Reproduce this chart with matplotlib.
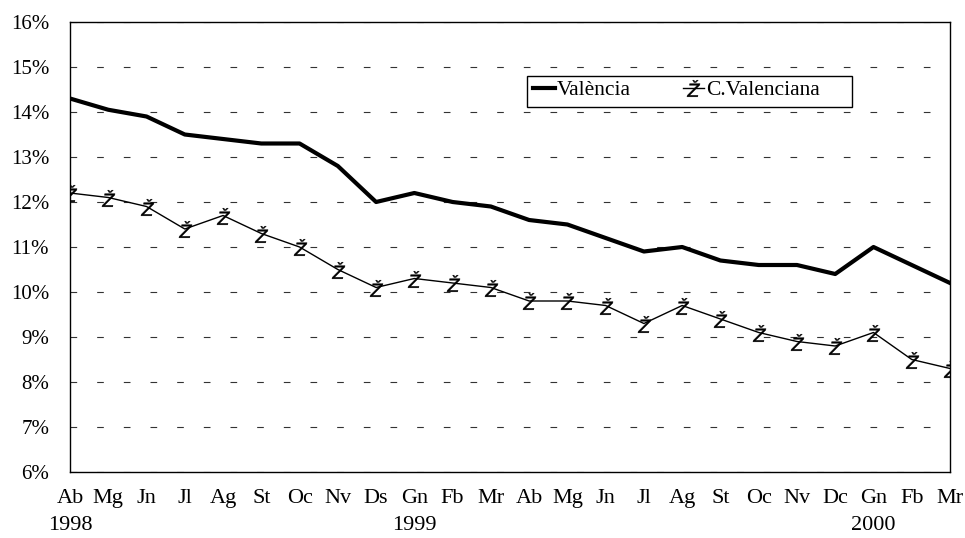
import numpy as np
import matplotlib.pyplot as plt
from matplotlib.patches import Rectangle
from matplotlib.transforms import blended_transform_factory

plt.rcParams['font.family'] = ['Liberation Serif', 'DejaVu Serif']

months = ['Ab', 'Mg', 'Jn', 'Jl', 'Ag', 'St', 'Oc', 'Nv', 'Ds', 'Gn', 'Fb', 'Mr',
          'Ab', 'Mg', 'Jn', 'Jl', 'Ag', 'St', 'Oc', 'Nv', 'Dc', 'Gn', 'Fb', 'Mr']
years = {0: '1998', 9: '1999', 21: '2000'}

valencia = [14.3, 14.05, 13.9, 13.5, 13.4, 13.3, 13.3, 12.8, 12.0, 12.2, 12.0, 11.9,
            11.6, 11.5, 11.2, 10.9, 11.0, 10.7, 10.6, 10.6, 10.4, 11.0, 10.6, 10.2]
cvalenciana = [12.2, 12.1, 11.9, 11.4, 11.7, 11.3, 11.0, 10.5, 10.1, 10.3, 10.2, 10.1,
               9.8, 9.8, 9.7, 9.3, 9.7, 9.4, 9.1, 8.9, 8.8, 9.1, 8.5, 8.3]

x = np.arange(len(months))

fig = plt.figure(figsize=(9.65, 5.38), dpi=100)
ax = fig.add_axes([70/965, 1 - 472/538, 880/965, 450/538])

ax.plot(x, valencia, color='black', lw=3, label='València', zorder=3)
ax.plot(x, cvalenciana, color='black', lw=1, marker='$Ž$', markersize=12,
        markeredgewidth=0.3, label='C.Valenciana', zorder=3)

ax.set_xlim(0, 23)
ax.set_ylim(6, 16)
ax.set_yticks(range(6, 17))
ax.set_yticklabels([f'{v}%' for v in range(6, 17)])
ax.set_xticks(x)
ax.set_xticklabels(months)
ax.tick_params(axis='both', length=0)
ax.tick_params(axis='y', pad=15, labelsize=15)
ax.tick_params(axis='x', pad=12, labelsize=16)

# year labels under the month names
trans = blended_transform_factory(ax.transData, ax.transAxes)
for i, yr in years.items():
    ax.text(i, -54/450, yr, transform=trans, ha='center', va='center', fontsize=16)

ax.grid(axis='y', color='#333333', linestyle=(0, (6, 18)), lw=0.8)
for s in ax.spines.values():
    s.set_color('black')
    s.set_linewidth(1)

leg = ax.legend(loc='upper left', bbox_to_anchor=(528/965, 1 - 75/538),
                bbox_transform=fig.transFigure, ncol=2, fontsize=15.5,
                frameon=False, handlelength=1.0, handletextpad=0.1,
                columnspacing=2.4, borderpad=0.25, borderaxespad=0)
fig.patches.append(Rectangle((527/965, 1 - 107/538), 325/965, 31/538,
                             transform=fig.transFigure, fill=False,
                             edgecolor='black', lw=1))

plt.savefig('out.png', dpi=100)
